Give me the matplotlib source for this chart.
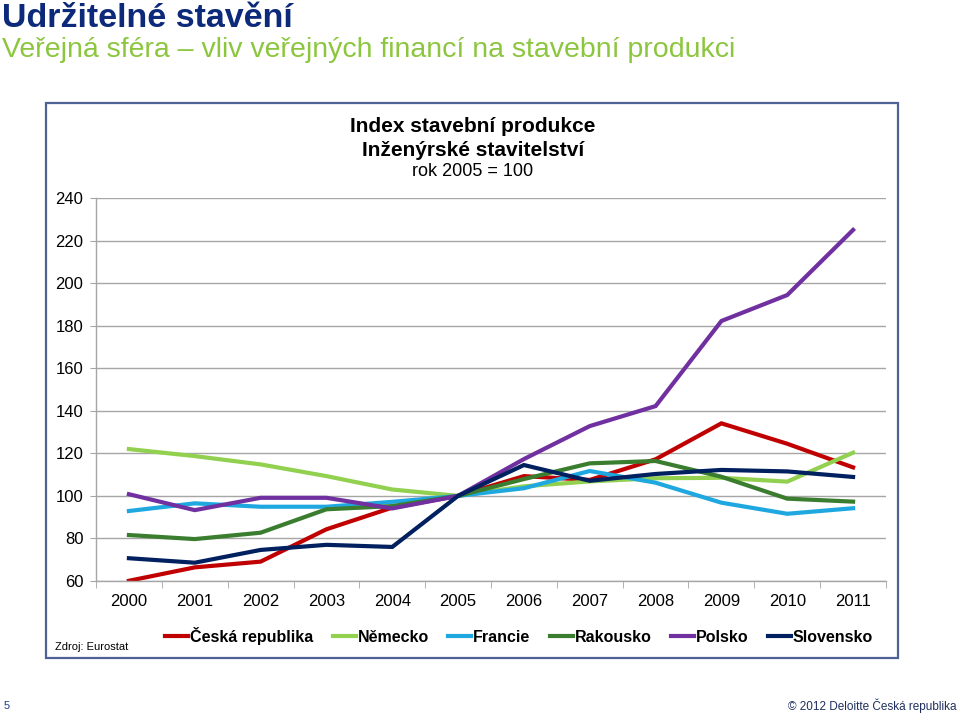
import matplotlib
matplotlib.use("Agg")
import matplotlib.pyplot as plt
from matplotlib.patches import Rectangle
from matplotlib.ticker import FixedLocator

plt.rcParams['font.family'] = ['Liberation Sans', 'DejaVu Sans']

years = ['2000', '2001', '2002', '2003', '2004', '2005', '2006', '2007', '2008', '2009', '2010', '2011']
ceska = [60.1, 66.4, 69.1, 84.3, 94.5, 100, 109.3, 107.5, 117.2, 134.1, 124.5, 113.4]
nemecko = [122, 118.7, 114.8, 109.3, 103, 100, 104.5, 106.8, 108.3, 108.5, 106.7, 120.3]
francie = [92.9, 96.5, 94.9, 94.9, 97.2, 100, 103.6, 111.7, 106.2, 96.8, 91.6, 94.2]
rakousko = [81.6, 79.7, 82.7, 93.7, 95.2, 100, 107.9, 115.3, 116.4, 109, 98.7, 97.3]
polsko = [100.8, 93.3, 99.1, 99.1, 94.1, 100, 117.3, 132.8, 142.2, 182.2, 194.4, 225]
slovensko = [70.7, 68.6, 74.6, 77, 76, 100, 114.5, 107.1, 110.3, 112.2, 111.5, 108.9]
yticks = [60, 80, 100, 120, 140, 160, 180, 200, 220, 240]

series = [
    ('Česká republika', ceska, '#C00000'),
    ('Německo', nemecko, '#92D050'),
    ('Francie', francie, '#1FA8E0'),
    ('Rakousko', rakousko, '#3A7D2F'),
    ('Polsko', polsko, '#7030A0'),
    ('Slovensko', slovensko, '#002060'),
]

W, H = 960, 719
fig = plt.figure(figsize=(9.6, 7.19), dpi=100)

def fx(x):
    return x / W

def fy(y):
    return 1 - y / H

# Titles
fig.text(fx(2), fy(27), 'Udržitelné stavění', fontsize=24.5, fontweight='bold',
         color='#0D2A7A', va='baseline', ha='left')
fig.text(fx(2), fy(57), 'Veřejná sféra – vliv veřejných financí na stavební produkci',
         fontsize=20.5, color='#8CC63F', va='baseline', ha='left')

# Chart box
fig.patches.append(Rectangle((fx(46), fy(658)), fx(898) - fx(46), fy(103) - fy(658),
                             transform=fig.transFigure, fill=False,
                             edgecolor='#4F6295', linewidth=1.6))

ax = fig.add_axes([fx(96), fy(581), fx(886) - fx(96), fy(198) - fy(581)])
x = list(range(len(years)))
lines = []
for name, vals, col in series:
    ln, = ax.plot(x, vals, color=col, linewidth=3.0, label=name, solid_joinstyle='miter')
    lines.append(ln)

ax.set_xlim(-0.5, len(years) - 0.5)
ax.set_ylim(60, 240)
ax.set_yticks(yticks)
ax.set_yticklabels([str(v) for v in yticks])
ax.set_xticks(x)
ax.set_xticklabels(years)
ax.xaxis.set_minor_locator(FixedLocator([i - 0.5 for i in range(len(years) + 1)]))
ax.tick_params(axis='x', which='major', length=0, pad=9, labelsize=12, colors='black')
ax.tick_params(axis='x', which='minor', length=5, color='#A6A6A6', direction='out')
ax.tick_params(axis='y', which='major', length=4, color='#A6A6A6', pad=5, labelsize=12)
ax.grid(axis='y', color='#A6A6A6', linewidth=1.0)
ax.set_axisbelow(True)
for s in ['top', 'right']:
    ax.spines[s].set_visible(False)
for s in ['left', 'bottom']:
    ax.spines[s].set_color('#A6A6A6')
    ax.spines[s].set_linewidth(1.0)

# Chart title
fig.text(fx(473), fy(126), 'Index stavební produkce', fontsize=15, fontweight='bold',
         ha='center', va='center', color='black')
fig.text(fx(473), fy(150), 'Inženýrské stavitelství', fontsize=15, fontweight='bold',
         ha='center', va='center', color='black')
fig.text(fx(473), fy(172), 'rok 2005 = 100', fontsize=13,
         ha='center', va='center', color='black')

leg = fig.legend(handles=lines, loc='center', bbox_to_anchor=(fx(519), fy(636)),
                 ncol=6, frameon=False, prop={'weight': 'bold', 'size': 11.5},
                 handlelength=1.45, handletextpad=0.12, columnspacing=1.2,
                 borderaxespad=0, borderpad=0)

fig.text(fx(55), fy(647), 'Zdroj: Eurostat', fontsize=8, ha='left', va='center', color='black')

# Footer
fig.text(fx(4), fy(706), '5', fontsize=8, color='#1F3C88', ha='left', va='center')
fig.text(fx(957), fy(706), '© 2012 Deloitte Česká republika', fontsize=8.5,
         color='#1F2F5F', ha='right', va='center')

fig.savefig('out.png', dpi=100, facecolor='white')
